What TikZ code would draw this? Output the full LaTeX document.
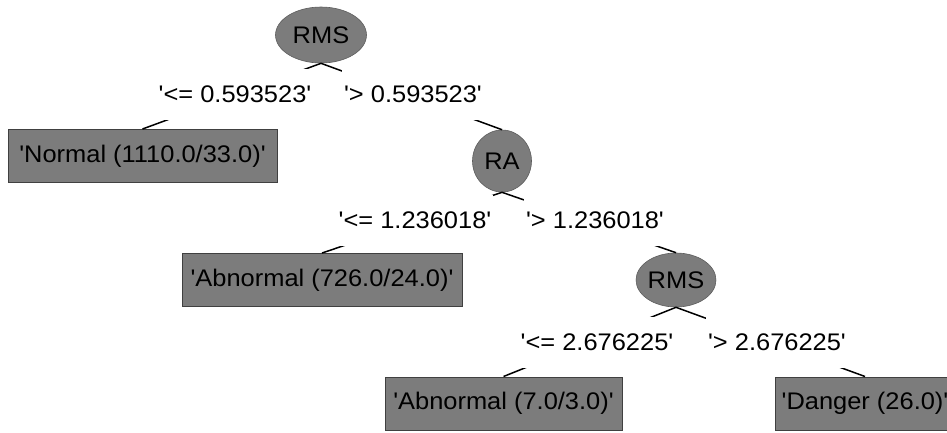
\documentclass[tikz,border=0pt]{standalone}
\usepackage{fontspec}
\setmainfont{Liberation Sans}[Ligatures=TeXOff, FakeStretch=1.06]
\usetikzlibrary{shapes.geometric}
\definecolor{nodegray}{RGB}{124,124,124}
\begin{document}
\begin{tikzpicture}[x=1pt,y=-1pt,
  every node/.style={font=\fontsize{24}{28}\selectfont, text=black},
  leaf/.style={rectangle, fill=nodegray, draw=black!75, line width=1pt, inner sep=0pt, minimum height=53pt},
  split/.style={ellipse, fill=nodegray, draw=nodegray!75!black, line width=0.6pt, inner sep=0pt},
  cond/.style={fill=white, inner xsep=2pt, inner ysep=17pt},
  edge/.style={draw=black, line width=1.5pt}]
\useasboundingbox (0,0) rectangle (947,432);
% decision nodes
\node[split, minimum width=91pt, minimum height=56pt] (rms1) at (321,35) {RMS};
\node[split, minimum width=59pt, minimum height=62pt] (ra) at (502,161) {RA};
\node[split, minimum width=74pt, minimum height=54pt] (rms2) at (676,280) {RMS};
% leaves
\node[leaf, minimum width=269pt] (normal) at (142.5,156) {'Normal (1110.0/33.0)'};
\node[leaf, minimum width=280pt] (abn1) at (322,280) {'Abnormal (726.0/24.0)'};
\node[leaf, minimum width=237pt] (abn2) at (503.5,403.5) {'Abnormal (7.0/3.0)'};
\node[leaf, minimum width=180pt] (danger) at (865,403.5) {'Danger (26.0)'};
% edges
\draw[edge] (rms1.south) -- (normal.north);
\draw[edge] (rms1.south) -- (ra.north);
\draw[edge] (ra.south) -- (abn1.north);
\draw[edge] (ra.south) -- (rms2.north);
\draw[edge] (rms2.south) -- (abn2.north);
\draw[edge] (rms2.south) -- (danger.north);
% edge labels
\node[cond] (l1) at (235,94) {'<= 0.593523'};
\node[cond] (l2) at (413,94) {'> 0.593523'};
\node[cond] (l3) at (415,220) {'<= 1.236018'};
\node[cond] (l4) at (595,220) {'> 1.236018'};
\node[cond] (l5) at (597,342) {'<= 2.676225'};
\node[cond] (l6) at (777,342) {'> 2.676225'};
\end{tikzpicture}
\end{document}
